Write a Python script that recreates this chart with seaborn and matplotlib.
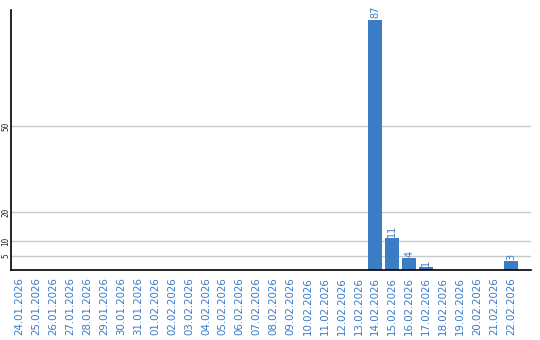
import matplotlib
matplotlib.use("Agg")
import matplotlib.pyplot as plt
import seaborn as sns
import pandas as pd

dates = ["24.01.2026", "25.01.2026", "26.01.2026", "27.01.2026", "28.01.2026",
         "29.01.2026", "30.01.2026", "31.01.2026", "01.02.2026", "02.02.2026",
         "03.02.2026", "04.02.2026", "05.02.2026", "06.02.2026", "07.02.2026",
         "08.02.2026", "09.02.2026", "10.02.2026", "11.02.2026", "12.02.2026",
         "13.02.2026", "14.02.2026", "15.02.2026", "16.02.2026", "17.02.2026",
         "18.02.2026", "19.02.2026", "20.02.2026", "21.02.2026", "22.02.2026"]
counts = [0, 0, 0, 0, 0, 0, 0, 0, 0, 0,
          0, 0, 0, 0, 0, 0, 0, 0, 0, 0,
          0, 87, 11, 4, 1, 0, 0, 0, 0, 3]
y_ticks = [5, 10, 20, 50]

BAR = "#3b7dc4"
TXT = "#3a7ac8"

sns.set_style("white")
df = pd.DataFrame({"date": dates, "count": counts})

fig = plt.figure(figsize=(5.4, 3.4), dpi=100)
ax = fig.add_axes([11/540, 1-270/340, 520/540, 260/340])

sns.barplot(data=df, x="date", y="count", color=BAR, width=0.82,
            saturation=1, ax=ax, zorder=3, linewidth=0, edgecolor="none")

ax.set_xlim(-0.5, 30.18)
ax.set_ylim(0, 90.3)
ax.set_yticks(y_ticks)
ax.yaxis.grid(True, color="#c8c8c8", linewidth=1, zorder=0)
ax.set_axisbelow(True)
ax.set_xlabel("")
ax.set_ylabel("")
for s in ["top", "right"]:
    ax.spines[s].set_visible(False)
for s in ["left", "bottom"]:
    ax.spines[s].set_color("black")
    ax.spines[s].set_linewidth(1.2)
    ax.spines[s].set_zorder(5)

ax.tick_params(axis="both", length=0)
ax.tick_params(axis="x", pad=5)
ax.tick_params(axis="y", pad=0.5)
for lab in ax.get_xticklabels():
    lab.set_rotation(90)
    lab.set_fontsize(7.4)
    lab.set_color(TXT)
    lab.set_family("DejaVu Sans")
for lab in ax.get_yticklabels():
    lab.set_rotation(90)
    lab.set_fontsize(5.5)
    lab.set_family("DejaVu Sans Mono")
    lab.set_va("center")

container = ax.containers[0]
labels = [str(v) if v > 0 else "" for v in counts]
ax.bar_label(container, labels=labels, rotation=90, fontsize=7, color=TXT,
             padding=1)

fig.savefig("out.png", dpi=100)
